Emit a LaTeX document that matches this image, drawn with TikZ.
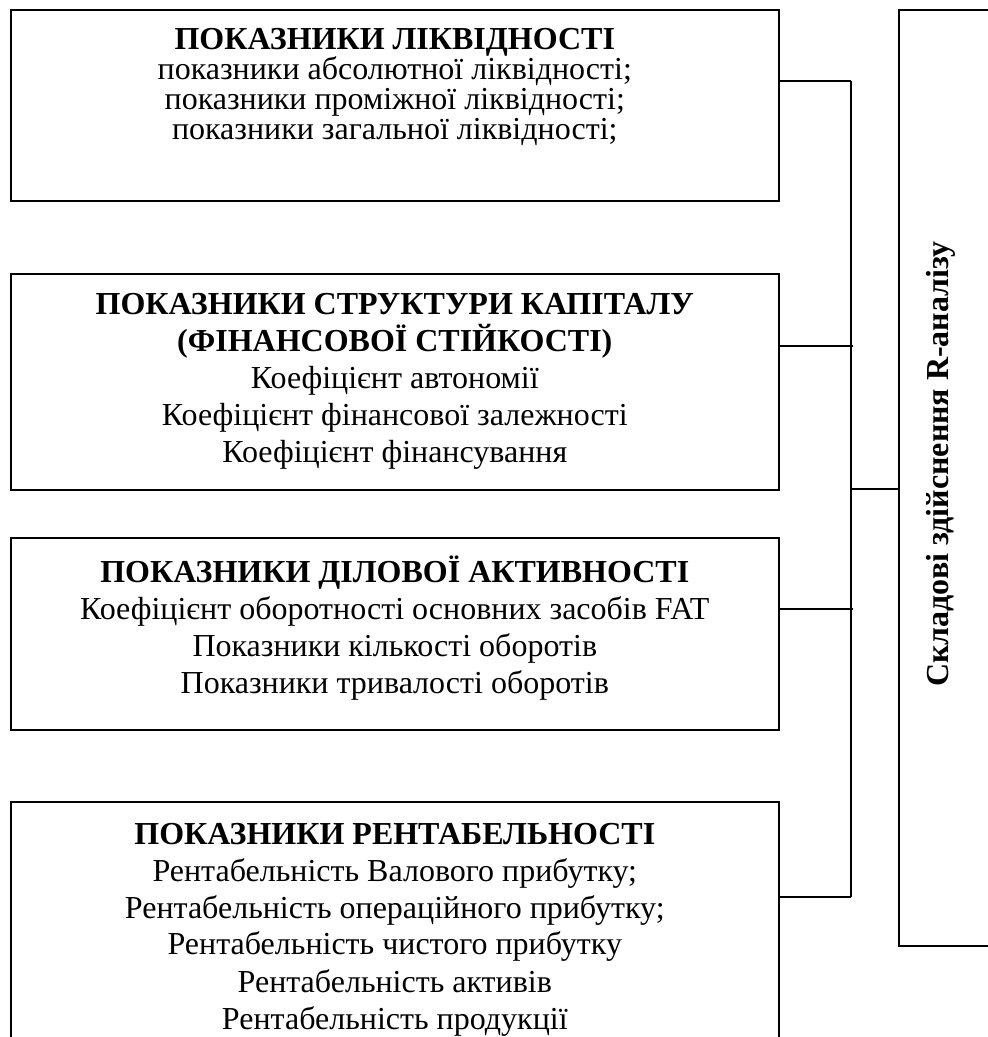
\documentclass[tikz,border=0pt]{standalone}
\usepackage{fontspec}
\setmainfont{Liberation Serif}
\begin{document}
\begin{tikzpicture}[x=1pt, y=-1pt, line width=1.6pt,
  box/.style={draw, rectangle, inner sep=0pt, anchor=north west},
  txt/.style={align=center, inner sep=0pt, anchor=north, font=\fontsize{32}{37}\selectfont}]
  \useasboundingbox (0,0) rectangle (988,1037);
  \clip (0,0) rectangle (988,1037);

  % liquidity
  \node[box, minimum width=768pt, minimum height=191pt] (liq) at (10,9) {};
  \node[txt, font=\fontsize{32}{30}\selectfont] (liqtxt) at ([yshift=-19pt]liq.north)
    {\textbf{ПОКАЗНИКИ ЛІКВІДНОСТІ}\\показники абсолютної ліквідності;\\
     показники проміжної ліквідності;\\показники загальної ліквідності;};

  % capital structure
  \node[box, minimum width=768pt, minimum height=216pt] (cap) at (10,273) {};
  \node[txt] (captxt) at ([yshift=-20pt]cap.north)
    {\textbf{ПОКАЗНИКИ СТРУКТУРИ КАПІТАЛУ}\\\textbf{(ФІНАНСОВОЇ СТІЙКОСТІ)}\\
     Коефіцієнт автономії\\Коефіцієнт фінансової залежності\\Коефіцієнт фінансування};

  % business activity
  \node[box, minimum width=768pt, minimum height=192pt] (act) at (10,537) {};
  \node[txt] (acttxt) at ([yshift=-18pt]act.north)
    {\textbf{ПОКАЗНИКИ ДІЛОВОЇ АКТИВНОСТІ}\\Коефіцієнт оборотності основних засобів FAT\\
     Показники кількості оборотів\\Показники тривалості оборотів};

  % profitability
  \node[box, minimum width=768pt, minimum height=280pt] (prof) at (10,801) {};
  \node[txt] (proftxt) at ([yshift=-21pt]prof.north)
    {\textbf{ПОКАЗНИКИ РЕНТАБЕЛЬНОСТІ}\\Рентабельність Валового прибутку;\\
     Рентабельність операційного прибутку;\\Рентабельність чистого прибутку\\
     Рентабельність активів\\Рентабельність продукції};

  % R-analysis
  \node[box, minimum width=120pt, minimum height=936pt] (ran) at (898,9) {};
  \node[txt, anchor=center, rotate=90] (rantxt) at (941,464)
    {\textbf{Складові здійснення R-аналізу}};

  % connectors
  \coordinate (bustop) at (851,81);
  \coordinate (busbot) at (851,897);
  \coordinate (busmid) at (851,489);
  \draw ([yshift=-72pt]liq.north east) -- (bustop);
  \draw ([yshift=-73pt]cap.north east) -- ++(73,0);
  \draw ([yshift=-72pt]act.north east) -- ++(73,0);
  \draw ([yshift=-96pt]prof.north east) -- (busbot);
  \draw (bustop) -- (busbot);
  \draw (busmid) -- (busmid -| ran.west);
\end{tikzpicture}
\end{document}
